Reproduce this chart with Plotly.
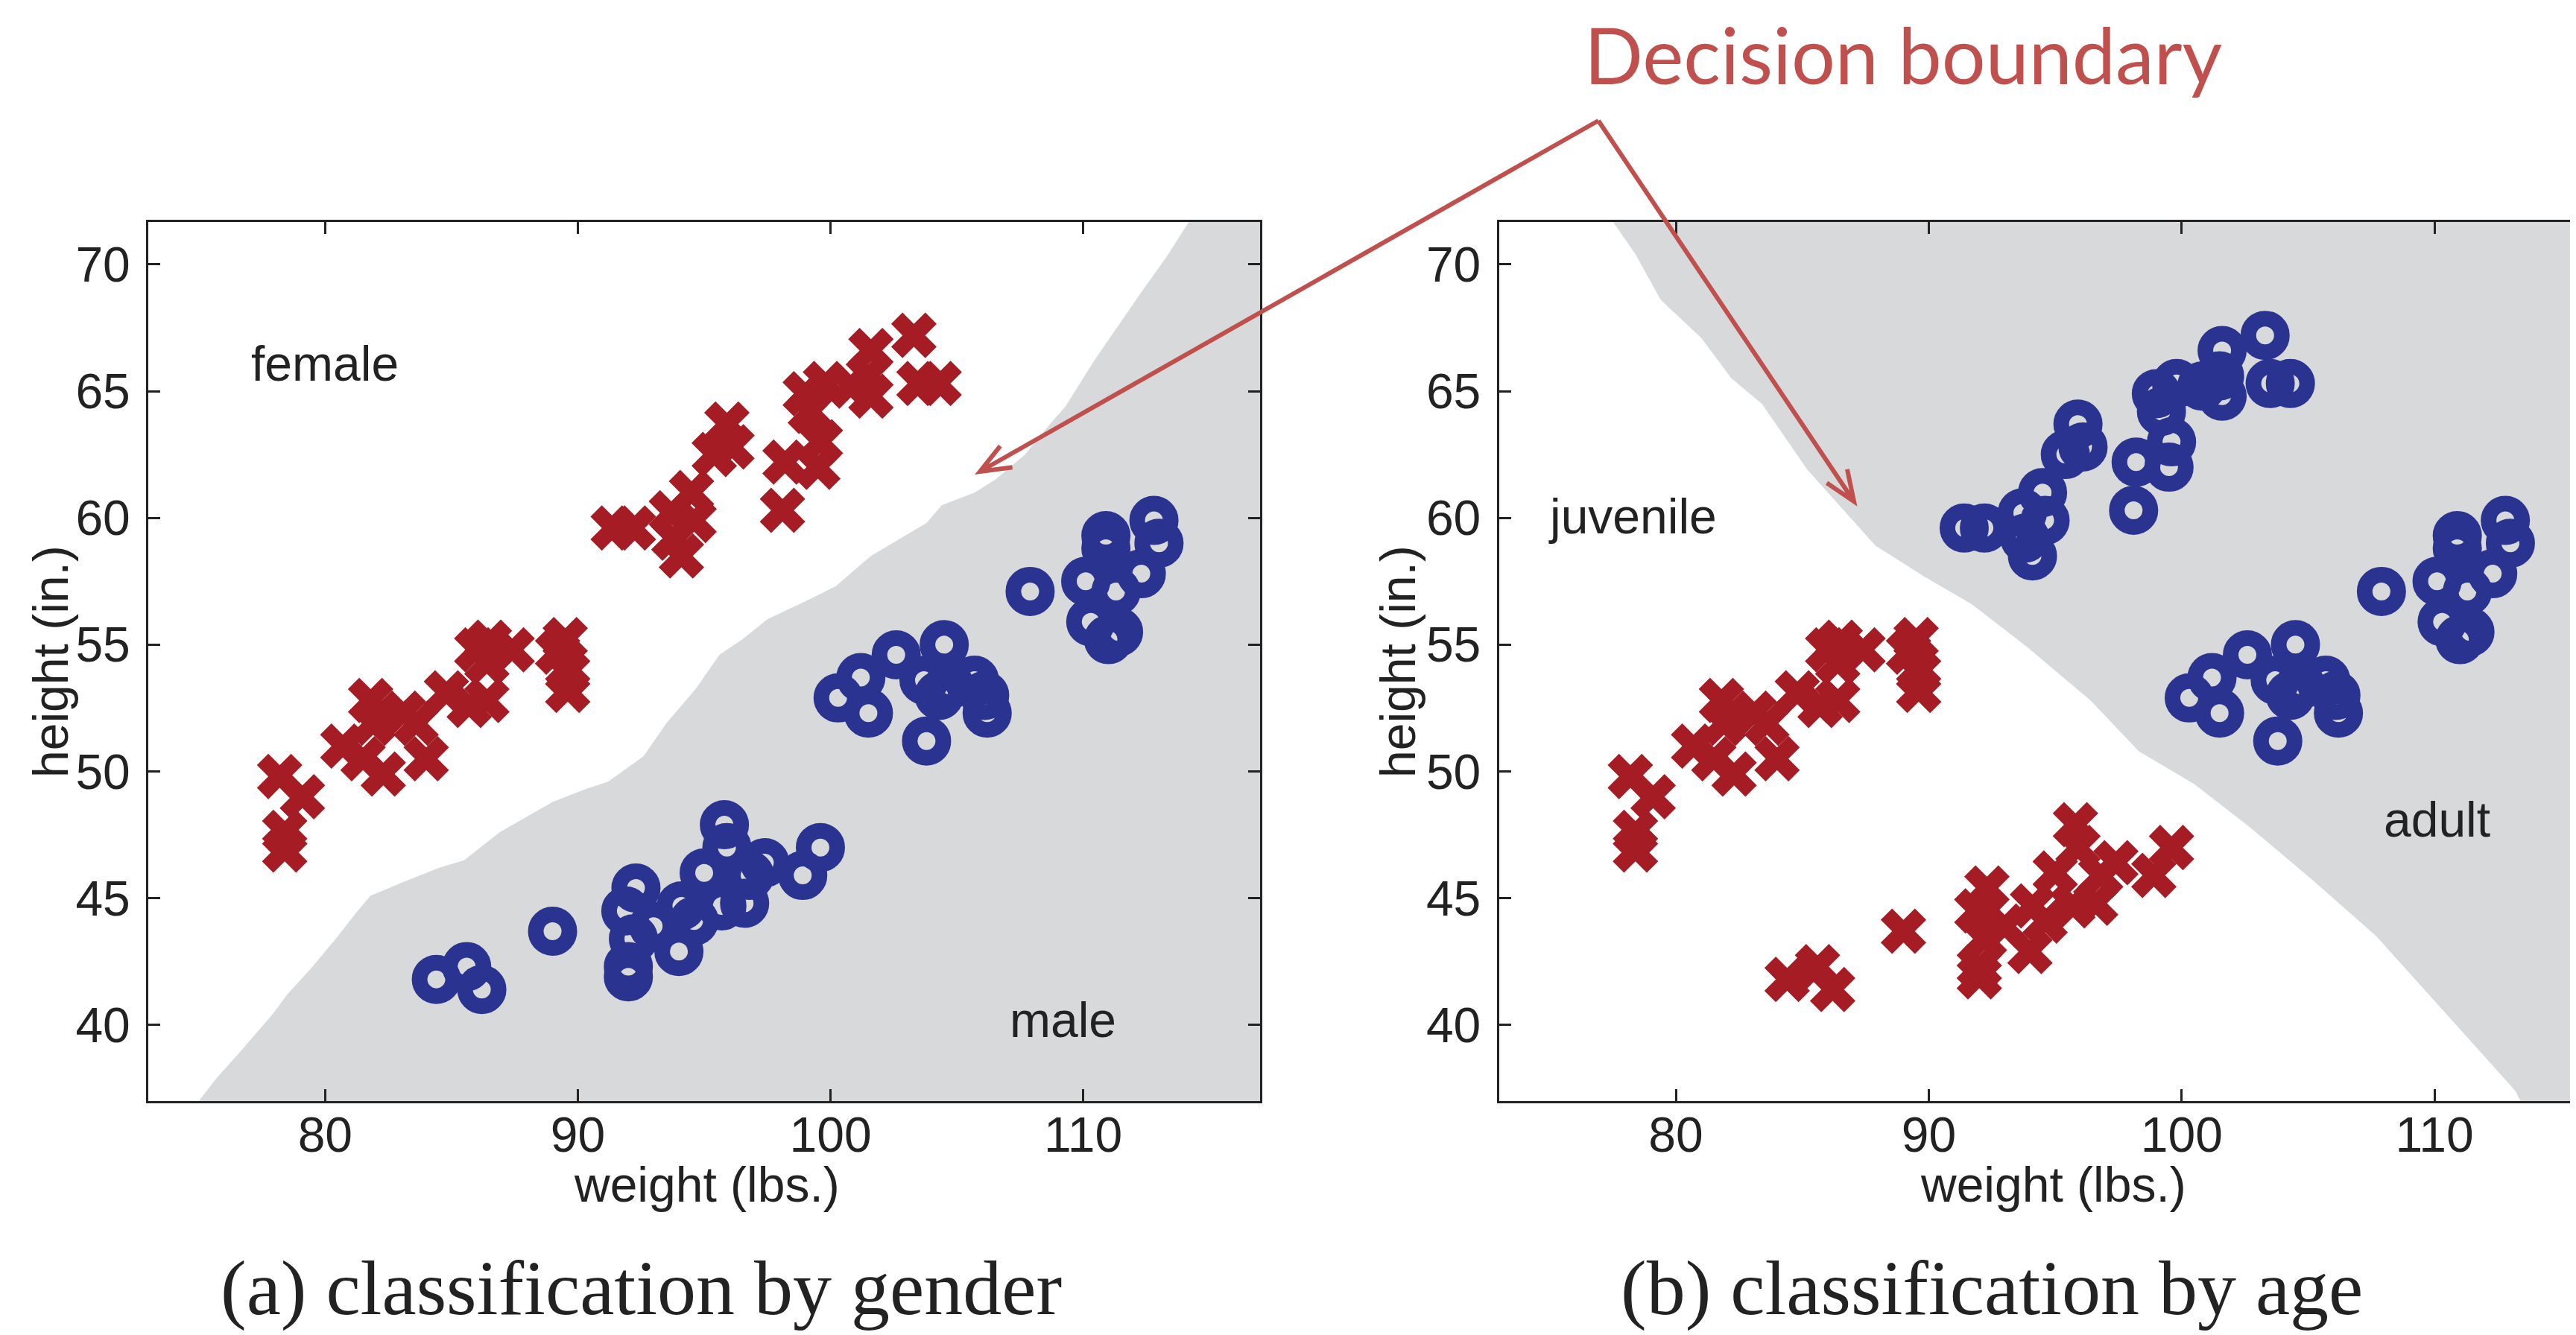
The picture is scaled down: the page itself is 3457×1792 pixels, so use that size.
import plotly.graph_objects as go
import math

# ---------------- data ----------------
female_juv_w = [78.2, 79.1, 78.4, 78.4, 80.7, 81.8, 81.9, 81.5, 82.3, 83.1, 83.6, 84.0,
                84.8, 85.7, 86.4, 86.5, 86.4, 87.4, 86.0, 89.5, 89.2, 89.6, 89.6]
female_juv_h = [49.8, 49.0, 47.6, 46.9, 51.0, 52.8, 51.9, 50.5, 49.9, 52.3, 51.9, 50.5,
                53.1, 52.6, 52.8, 55.1, 54.3, 54.8, 54.8, 55.2, 54.7, 53.9, 53.2]

female_adult_w = [91.4, 92.2, 93.7, 94.5, 93.8, 94.1, 94.6, 95.9, 95.4, 96.1, 98.1, 98.2,
                  99.5, 99.6, 99.0, 99.8, 99.2, 101.6, 101.5, 100.8, 101.6, 103.3, 103.5, 104.3]
female_adult_h = [59.6, 59.6, 60.2, 61.0, 59.2, 58.5, 59.9, 63.7, 62.5, 62.8, 60.3, 62.2,
                  62.0, 63.0, 64.9, 65.3, 64.2, 66.6, 65.6, 65.2, 64.8, 67.2, 65.3, 65.3]

male_juv_w = [84.4, 85.6, 86.2, 89.0, 92.3, 91.9, 92.2, 92.0, 93.0, 94.0, 94.1, 95.0,
              94.6, 95.8, 95.9, 96.6, 95.7, 97.4, 96.8, 98.9, 99.6, 92.0]
male_juv_h = [41.8, 42.3, 41.4, 43.7, 45.4, 44.5, 43.4, 42.3, 43.9, 42.9, 44.7, 46.0,
              44.1, 47.9, 47.0, 44.8, 44.7, 46.4, 45.9, 45.9, 47.0, 41.9]

male_adult_w = [100.3, 101.2, 101.5, 102.6, 104.5, 103.8, 103.7, 104.7, 105.7, 106.1, 106.2,
                104.3, 107.9, 110.9, 110.9, 110.1, 111.3, 112.3, 112.8, 113.0, 110.3, 111.0, 111.4]
male_adult_h = [52.9, 53.7, 52.3, 54.6, 55.0, 51.2, 53.6, 53.4, 53.6, 53.0, 52.3,
                53.0, 57.1, 59.3, 58.8, 57.5, 57.1, 57.8, 59.9, 59.0, 55.9, 55.2, 55.5]

# decision boundary (a): gender
bound_a_w = [75.0, 75.7, 76.6, 77.3, 77.9, 78.5, 79.5, 80.5, 81.2, 81.8, 83.0, 84.5, 85.5,
             86.9, 88.3, 89.0, 90.3, 91.2, 92.6, 93.5, 94.7, 95.6, 96.5, 97.5, 99.2, 100.2,
             101.6, 103.8, 104.4, 105.7, 106.5, 107.7, 108.6, 109.3, 110.5, 111.4, 112.3,
             113.3, 114.2]
bound_a_h = [37.0, 37.9, 38.9, 39.7, 40.4, 41.2, 42.3, 43.5, 44.4, 45.1, 45.6, 46.2, 46.5,
             47.6, 48.4, 48.8, 49.3, 49.6, 50.6, 51.9, 53.3, 54.6, 55.2, 56.0, 56.8, 57.3,
             58.5, 59.8, 60.5, 61.0, 61.5, 62.5, 63.6, 64.4, 66.3, 67.6, 68.9, 70.3, 71.7]

# decision boundary (b): age
bound_b_w = [77.5, 78.4, 79.4, 81.0, 82.2, 83.4, 85.2, 87.9, 89.8, 91.7, 93.9, 96.4, 98.3,
             100.5, 102.7, 105.2, 107.7, 110.5, 113.2, 113.4]
bound_b_h = [71.7, 70.4, 68.6, 67.1, 65.5, 64.5, 61.9, 58.9, 57.7, 56.6, 54.9, 52.8, 50.8,
             49.5, 47.8, 45.7, 43.5, 40.4, 37.4, 37.0]

x_ticks = [80, 90, 100, 110]
y_ticks = [40, 45, 50, 55, 60, 65, 70]
x_range_a = [73.0, 117.0]
x_range_b = [73.0, 115.83]
y_range = [37.0, 71.67]

RED = "#A51C24"
BLUE = "#2B3391"
GRAY = "#D8D9DB"
ANNO = "#C0504D"
INK = "#222222"

W, H = 3457, 1792
SANS = "Liberation Sans, Arial, Helvetica, sans-serif"
SERIF = "Liberation Serif, Times New Roman, serif"


def px(x):
    return x / W


def py(y):
    return 1 - y / H


fig = go.Figure()

# gray regions
fig.add_trace(go.Scatter(
    x=bound_a_w + [118, 118], y=bound_a_h + [y_range[1] + 1, y_range[0] - 1],
    fill="toself", fillcolor=GRAY, mode="lines", line=dict(width=0, color=GRAY),
    xaxis="x", yaxis="y", hoverinfo="skip", showlegend=False))
fig.add_trace(go.Scatter(
    x=bound_b_w + [118, 118], y=bound_b_h + [y_range[0] - 1, y_range[1] + 1],
    fill="toself", fillcolor=GRAY, mode="lines", line=dict(width=0, color=GRAY),
    xaxis="x2", yaxis="y2", hoverinfo="skip", showlegend=False))

cross = dict(symbol="x", size=54, color=RED, line=dict(width=0))
ring = dict(symbol="circle-open", size=45, color=BLUE, line=dict(width=21, color=BLUE))

# (a) by gender
fig.add_trace(go.Scatter(x=female_juv_w + female_adult_w, y=female_juv_h + female_adult_h,
                         mode="markers", marker=cross, name="female", xaxis="x", yaxis="y"))
fig.add_trace(go.Scatter(x=male_juv_w + male_adult_w, y=male_juv_h + male_adult_h,
                         mode="markers", marker=ring, name="male", xaxis="x", yaxis="y"))
# (b) by age
fig.add_trace(go.Scatter(x=female_juv_w + male_juv_w, y=female_juv_h + male_juv_h,
                         mode="markers", marker=cross, name="juvenile", xaxis="x2", yaxis="y2"))
fig.add_trace(go.Scatter(x=female_adult_w + male_adult_w, y=female_adult_h + male_adult_h,
                         mode="markers", marker=ring, name="adult", xaxis="x2", yaxis="y2"))

axis_common = dict(showgrid=False, zeroline=False, showline=True, linewidth=3, linecolor=INK,
                   ticks="inside", ticklen=16, tickwidth=3, tickcolor=INK,
                   tickfont=dict(family=SANS, size=66, color=INK))

fig.update_layout(
    width=W, height=H, margin=dict(l=0, r=0, t=0, b=0),
    paper_bgcolor="white", plot_bgcolor="white", showlegend=False,
    xaxis=dict(domain=[px(191), px(1683)], range=x_range_a, tickvals=x_ticks,
               mirror="ticks", anchor="y", ticklabelstandoff=-14, **axis_common),
    yaxis=dict(domain=[py(1470), py(290)], range=y_range, tickvals=y_ticks,
               mirror="ticks", anchor="x", ticklabelstandoff=8, **axis_common),
    xaxis2=dict(domain=[px(2003.5), 1.0], range=x_range_b, tickvals=x_ticks,
                mirror="ticks", anchor="y2", ticklabelstandoff=-14, **axis_common),
    yaxis2=dict(domain=[py(1470), py(290)], range=y_range, tickvals=y_ticks,
                mirror=False, anchor="x2", ticklabelstandoff=8, **axis_common),
)

annos = []
# axis titles
for xc, txt in [(940, "weight (lbs.)"), (2747, "weight (lbs.)")]:
    annos.append(dict(x=px(xc), y=py(1582), xref="paper", yref="paper", text=txt,
                      showarrow=False, xanchor="center", yanchor="middle",
                      font=dict(family=SANS, size=66, color=INK)))
for xc in [60, 1868]:
    annos.append(dict(x=px(xc), y=py(880), xref="paper", yref="paper", text="height (in.)",
                      showarrow=False, xanchor="center", yanchor="middle", textangle=-90,
                      font=dict(family=SANS, size=66, color=INK)))
# region labels
for ax, ay, txt, xr, yr in [(80.0, 66.1, "female", "x", "y"), (109.2, 40.2, "male", "x", "y"),
                            (78.3, 60.05, "juvenile", "x2", "y2"), (110.1, 48.1, "adult", "x2", "y2")]:
    annos.append(dict(x=ax, y=ay, xref=xr, yref=yr, text=txt, showarrow=False,
                      xanchor="center", yanchor="middle",
                      font=dict(family=SANS, size=66, color=INK)))
# captions
for xc, txt in [(852, "(a) classification by gender"), (2665, "(b) classification by age")]:
    annos.append(dict(x=px(xc), y=py(1721), xref="paper", yref="paper", text=txt,
                      showarrow=False, xanchor="center", yanchor="middle",
                      font=dict(family=SERIF, size=104, color=INK)))
# callout text
annos.append(dict(x=px(2116), y=1.0, xref="paper", yref="paper", text="Decision boundary",
                  showarrow=False, xanchor="left", yanchor="top",
                  font=dict(family="Lato, Open Sans, sans-serif", size=104, color=ANNO)))
fig.update_layout(annotations=annos)

# callout arrows (pixel geometry of the annotation)
apex = (2137, 154)
tips = [(1307, 625), (2480, 665)]
shapes = []
head_len, head_ang = 44, math.radians(22)
for tx, ty in tips:
    dx, dy = apex[0] - tx, apex[1] - ty
    n = math.hypot(dx, dy)
    ux, uy = dx / n, dy / n
    arms = []
    for s in (1, -1):
        c, si = math.cos(s * head_ang), math.sin(s * head_ang)
        rx, ry = ux * c - uy * si, ux * si + uy * c
        arms.append((tx + rx * head_len, ty + ry * head_len))
    path = (f"M{px(apex[0])},{py(apex[1])} L{px(tx)},{py(ty)} "
            f"M{px(arms[0][0])},{py(arms[0][1])} L{px(tx)},{py(ty)} L{px(arms[1][0])},{py(arms[1][1])}")
    shapes.append(dict(type="path", path=path, xref="paper", yref="paper",
                       line=dict(color=ANNO, width=6), layer="above"))
fig.update_layout(shapes=shapes)

fig.write_html("out.html")
